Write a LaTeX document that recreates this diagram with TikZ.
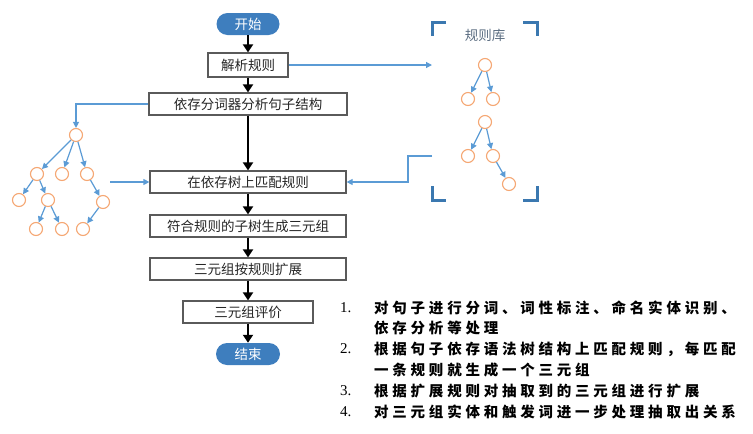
\documentclass[tikz,border=0pt]{standalone}
\usepackage{fontspec}
\setmainfont{Liberation Serif}
\newfontfamily\cjk{Noto Sans CJK SC}
\newfontfamily\cjkwide[LetterSpace=26]{Noto Sans CJK SC}
\usetikzlibrary{arrows.meta}
\definecolor{boxgray}{HTML}{5A5A5A}
\definecolor{pillblue}{HTML}{3E7EBE}
\definecolor{lineblue}{HTML}{5B9BD5}
\definecolor{treeorange}{HTML}{F5A773}
\definecolor{brackblue}{HTML}{3B78B0}
\definecolor{libtext}{HTML}{5C6E82}
\tikzset{
  flow/.style={draw=boxgray, line width=1.2pt, fill=white, inner sep=0pt, minimum height=22pt,
    font=\cjk\fontsize{13.5}{15}\selectfont, text=black!85},
  pill/.style={fill=pillblue, rounded corners=11pt, inner sep=0pt, minimum width=63pt, minimum height=22pt,
    text=white, font=\cjk\fontsize{13.5}{15}\selectfont},
  tn/.style={circle, draw=treeorange, line width=1.1pt, minimum size=13pt, inner sep=0pt, fill=white},
  karrow/.style={line width=2.2pt, -{Triangle[length=8pt,width=10pt]}},
  barrow/.style={draw=lineblue, line width=1.2pt, -{Triangle[length=6pt,width=6pt]}, color=lineblue},
  bracket/.style={draw=brackblue, line width=3pt},
  listtxt/.style={anchor=west, inner sep=0pt, font=\cjkwide\bfseries\fontsize{14.5}{16}\selectfont},
  listnum/.style={anchor=west, inner sep=0pt, font=\fontsize{15}{17}\selectfont}
}
\begin{document}
\begin{tikzpicture}[x=1pt,y=-1pt]
\useasboundingbox (0,0) rectangle (753,434);
% flowchart
\node[pill] (start) at (248,24) {开始};
\node[flow, minimum width=80pt, minimum height=24pt] (parse) at (248,65) {解析规则};
\node[flow, minimum width=198pt] (dep) at (248,104) {依存分词器分析句子结构};
\node[flow, minimum width=196pt] (match) at (248,182) {在依存树上匹配规则};
\node[flow, minimum width=196pt] (gen) at (248,226) {符合规则的子树生成三元组};
\node[flow, minimum width=196pt] (ext) at (248,269) {三元组按规则扩展};
\node[flow, minimum width=130pt] (eval) at (248,312) {三元组评价};
\node[pill, minimum width=64pt] (end) at (248,354) {结束};
\draw[karrow] (start) -- (parse);
\draw[karrow] (parse) -- (dep);
\draw[karrow] (dep) -- (match);
\draw[karrow] (match) -- (gen);
\draw[karrow] (gen) -- (ext);
\draw[karrow] (ext) -- (eval);
\draw[karrow] (eval) -- (end);
% left dependency tree
\node[tn] (r) at (76,135) {};
\node[tn] (a) at (37,174) {};
\node[tn] (b) at (62,174) {};
\node[tn] (c) at (87,174) {};
\node[tn] (d) at (19,200) {};
\node[tn] (e) at (48,200) {};
\node[tn] (f) at (103,202) {};
\node[tn] (g) at (36,229) {};
\node[tn] (h) at (62,229) {};
\node[tn] (i) at (83,229) {};
\draw[barrow] (r) -- (a);
\draw[barrow] (r) -- (b);
\draw[barrow] (r) -- (c);
\draw[barrow] (a) -- (d);
\draw[barrow] (a) -- (e);
\draw[barrow] (c) -- (f);
\draw[barrow] (e) -- (g);
\draw[barrow] (e) -- (h);
\draw[barrow] (f) -- (i);
% rule library
\node[font=\cjk\fontsize{13.5}{15}\selectfont, text=libtext, inner sep=0pt] (libtitle) at (485,35) {规则库};
\draw[bracket] (446,22) -- (432,22) -- (432,36);
\draw[bracket] (523,22) -- (537,22) -- (537,36);
\draw[bracket] (432,186) -- (432,200) -- (446,200);
\draw[bracket] (537,186) -- (537,200) -- (523,200);
\node[tn] (p1) at (485,65) {};
\node[tn] (p2) at (468,99) {};
\node[tn] (p3) at (493,99) {};
\node[tn] (q1) at (485,122) {};
\node[tn] (q2) at (468,156) {};
\node[tn] (q3) at (493,156) {};
\node[tn] (q4) at (509,184) {};
\draw[barrow] (p1) -- (p2);
\draw[barrow] (p1) -- (p3);
\draw[barrow] (q1) -- (q2);
\draw[barrow] (q1) -- (q3);
\draw[barrow] (q3) -- (q4);
% blue connectors
\coordinate (libin) at (432,65);
\coordinate (libout) at (432,156);
\coordinate (treeout) at (110,182);
\draw[barrow] (parse.east) -- (libin);
\draw[barrow] (dep.west) -| (r);
\draw[barrow] (treeout) -- (match.west);
\draw[barrow] (libout) -- (408,156) |- (match.east);
% list
\node[listnum] (n1) at (340,308) {1.};
\node[listtxt] (t1) at (374,308) {对句子进行分词、词性标注、命名实体识别、};
\node[listtxt] (t1b) at (374,328) {依存分析等处理};
\node[listnum] (n2) at (340,349) {2.};
\node[listtxt] (t2) at (374,349) {根据句子依存语法树结构上匹配规则，每匹配};
\node[listtxt] (t2b) at (374,370) {一条规则就生成一个三元组};
\node[listnum] (n3) at (340,391) {3.};
\node[listtxt] (t3) at (374,391) {根据扩展规则对抽取到的三元组进行扩展};
\node[listnum] (n4) at (340,412) {4.};
\node[listtxt] (t4) at (374,412) {对三元组实体和触发词进一步处理抽取出关系};
\end{tikzpicture}
\end{document}
